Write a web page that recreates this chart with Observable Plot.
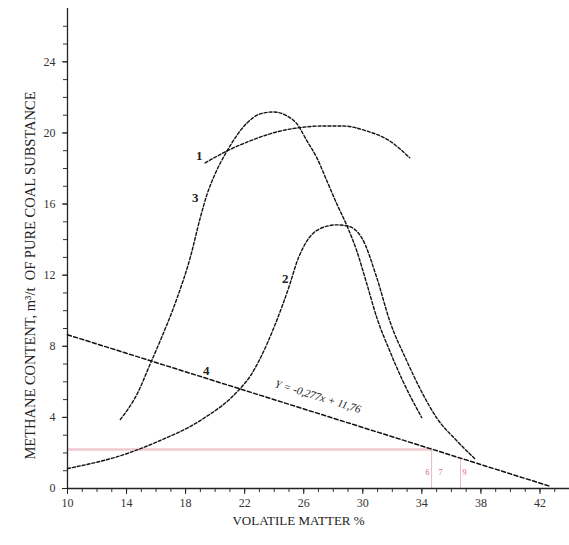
<!DOCTYPE html>
<html>
<head>
<meta charset="utf-8">
<script src="https://cdn.jsdelivr.net/npm/d3@7"></script>
<script src="https://cdn.jsdelivr.net/npm/@observablehq/plot@0.6"></script>
<style>
  html, body { margin: 0; padding: 0; background: #fff; }
  #chart svg { display: block; }
</style>
</head>
<body>
<div id="chart"></div>
<script>
// ---- data ----
const curve1X = [19.32, 20.81, 22.36, 23.92, 25.54, 27.30, 28.65, 30.27, 31.82, 33.18];
const curve1Y = [18.31, 18.99, 19.55, 20.00, 20.28, 20.39, 20.39, 20.11, 19.55, 18.60];

const curve2X = [10.0, 14.05, 16.28, 18.99, 21.69, 22.40, 23.04, 24.05, 25.07, 25.54, 26.22, 27.09, 28.24, 28.92, 29.93, 30.95, 31.82, 32.97, 34.05, 34.99, 36.35, 37.57];
const curve2Y = [1.12, 1.97, 2.70, 3.82, 5.62, 6.35, 7.30, 9.20, 11.52, 12.75, 13.93, 14.61, 14.83, 14.78, 14.10, 11.85, 9.44, 7.19, 5.34, 3.99, 2.70, 1.69];

const curve3X = [13.58, 14.73, 15.61, 16.28, 17.43, 18.31, 18.99, 19.46, 20.0, 20.81, 22.16, 23.04, 23.92, 24.86, 25.54, 26.22, 26.89, 27.57, 28.24, 28.99, 29.59, 30.27, 30.95, 31.82, 32.70, 33.99];
const curve3Y = [3.88, 5.34, 7.02, 8.31, 10.73, 12.98, 15.22, 16.57, 17.70, 18.99, 20.56, 21.07, 21.18, 20.96, 20.51, 19.55, 18.60, 17.30, 16.01, 14.66, 13.37, 11.52, 9.61, 7.75, 6.07, 3.99];

const line4X = [10.0, 42.7];
const line4Y = [8.65, 0.12];

const curveLabels = ["1", "2", "3", "4"];
const curveLabelX = [18.92, 24.75, 18.65, 19.39];
const curveLabelY = [18.71, 11.80, 16.35, 6.63];

const equationText = "Y = -0,277x + 11,76";
const equationX = 26.96;
const equationY = 5.17;

const pinkLevel = 2.2;
const pinkEndX = 34.66;
const pinkDropX = [34.66, 36.62];
const pinkDropTop = [2.29, 1.62];
const redNotes = ["6", "7", "9"];
const redNoteX = [34.39, 35.27, 36.89];
const redNoteY = [0.9, 0.9, 0.9];

const xMajorTicks = [10, 14, 18, 22, 26, 30, 34, 38, 42];
const yMajorTicks = [0, 4, 8, 12, 16, 20, 24];

const xTitle = "VOLATILE MATTER %";
const yTitle = "METHANE CONTENT, m³/t  OF PURE COAL SUBSTANCE";

// ---- build tables ----
const toPts = (xs, ys) => xs.map((x, i) => ({x, y: ys[i]}));
const c1 = toPts(curve1X, curve1Y);
const c2 = toPts(curve2X, curve2Y);
const c3 = toPts(curve3X, curve3Y);
const l4 = toPts(line4X, line4Y);
const labs = curveLabels.map((t, i) => ({t, x: curveLabelX[i], y: curveLabelY[i]}));
const drops = pinkDropX.map((x, i) => ({x, y2: pinkDropTop[i]}));
const notes = redNotes.map((t, i) => ({t, x: redNoteX[i], y: redNoteY[i]}));

const serif = "'Liberation Serif', 'DejaVu Serif', serif";
const dash = "3,2";

const chart = Plot.plot({
  width: 569,
  height: 545,
  marginLeft: 67,
  marginRight: 0,
  marginTop: 8,
  marginBottom: 57,
  style: {fontFamily: serif, background: "#fff", color: "#222"},
  x: {domain: [10, 44]},
  y: {domain: [0, 27]},
  marks: [
    // pink guide lines
    Plot.ruleY([pinkLevel], {x1: 10, x2: pinkEndX, stroke: "#efc9cf", strokeWidth: 2.5}),
    Plot.ruleX(drops, {x: "x", y1: 0, y2: "y2", stroke: "#eab9c0", strokeWidth: 1}),
    Plot.text(notes, {x: "x", y: "y", text: "t", fill: "#d9606e", fontSize: 8}),
    // axes
    Plot.axisX({ticks: d3.range(10, 44, 1), tickSize: 4, tickFormat: () => "", label: null, stroke: "#333"}),
    Plot.axisX({ticks: xMajorTicks, tickSize: 6, tickPadding: 4, fontSize: 12, label: null, stroke: "#222", fill: "#333"}),
    Plot.axisY({ticks: d3.range(0, 27, 1), tickSize: 4, tickFormat: () => "", label: null, stroke: "#333"}),
    Plot.axisY({ticks: yMajorTicks, tickSize: 5, tickPadding: 7, fontSize: 12, label: null, stroke: "#222", fill: "#333"}),
    Plot.ruleY([0], {stroke: "#222", strokeWidth: 1.3}),
    Plot.ruleX([10], {y1: 0, y2: 27, stroke: "#222", strokeWidth: 1.3}),
    // curves
    Plot.line(c1, {x: "x", y: "y", curve: "monotone-x", stroke: "#111", strokeWidth: 1.4, strokeDasharray: dash}),
    Plot.line(c2, {x: "x", y: "y", curve: "monotone-x", stroke: "#111", strokeWidth: 1.4, strokeDasharray: dash}),
    Plot.line(c3, {x: "x", y: "y", curve: "monotone-x", stroke: "#111", strokeWidth: 1.4, strokeDasharray: dash}),
    Plot.line(l4, {x: "x", y: "y", stroke: "#111", strokeWidth: 1.5, strokeDasharray: "4,2.5"}),
    // labels
    Plot.text(labs, {x: "x", y: "y", text: "t", fontSize: 13, fontWeight: "bold", fill: "#222"}),
    Plot.text([equationText], {x: equationX, y: equationY, text: d => d, rotate: 17, fontSize: 11, fontStyle: "italic", fill: "#222"}),
    Plot.text([xTitle], {frameAnchor: "bottom", dx: -20, dy: 36, text: d => d, fontSize: 13, fill: "#222"}),
    Plot.text([yTitle], {frameAnchor: "left", textAnchor: "middle", dx: -37, dy: 27, rotate: -90, text: d => d, fontSize: 14.5, fill: "#222"})
  ]
});
document.getElementById("chart").appendChild(chart);
</script>
</body>
</html>
